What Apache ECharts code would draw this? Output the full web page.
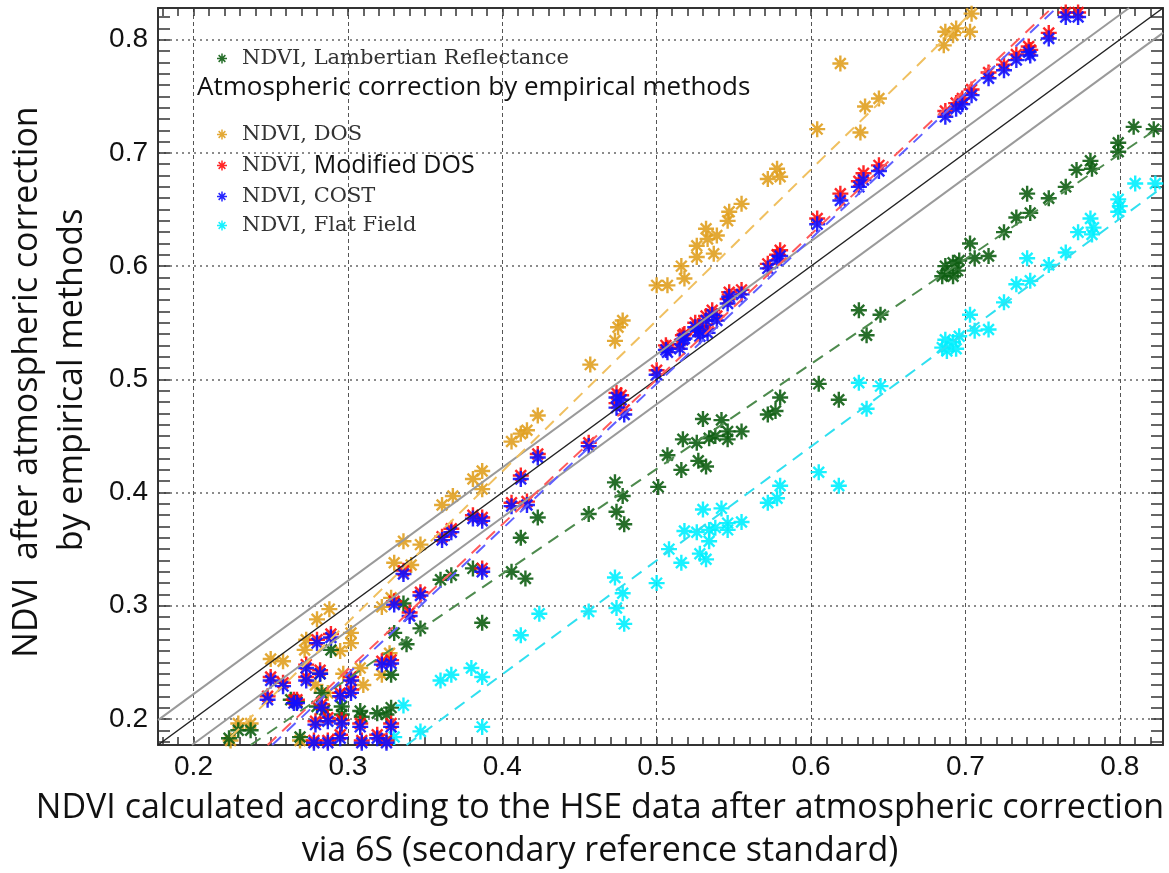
<!DOCTYPE html>
<html>
<head>
<meta charset="utf-8">
<script src="https://cdn.jsdelivr.net/npm/echarts@6/dist/echarts.min.js"></script>
<style>
  html, body { margin: 0; padding: 0; background: #fff; }
  #main { width: 1169px; height: 873px; }
</style>
</head>
<body>
<div id="main"></div>
<script>
// axis extent (same on both axes)
const axisMin = 0.177, axisMax = 0.828;

// [x, y] points
const lambertian = [[0.223,0.183],[0.229,0.190],[0.237,0.190],[0.263,0.217],[0.267,0.215],[0.269,0.184],[0.280,0.211],[0.283,0.223],[0.282,0.240],[0.285,0.208],[0.289,0.261],[0.296,0.211],[0.296,0.204],[0.308,0.207],[0.309,0.202],[0.319,0.205],[0.325,0.204],[0.328,0.210],[0.328,0.239],[0.330,0.276],[0.336,0.302],[0.338,0.266],[0.347,0.280],[0.360,0.323],[0.367,0.327],[0.381,0.333],[0.387,0.285],[0.406,0.330],[0.415,0.324],[0.412,0.360],[0.423,0.378],[0.456,0.381],[0.473,0.409],[0.478,0.397],[0.474,0.383],[0.479,0.372],[0.501,0.405],[0.507,0.433],[0.516,0.420],[0.517,0.447],[0.526,0.444],[0.527,0.428],[0.532,0.423],[0.530,0.465],[0.534,0.448],[0.538,0.450],[0.542,0.464],[0.546,0.454],[0.546,0.447],[0.555,0.454],[0.572,0.469],[0.577,0.472],[0.580,0.484],[0.605,0.496],[0.618,0.482],[0.631,0.561],[0.636,0.539],[0.645,0.557],[0.685,0.591],[0.687,0.600],[0.688,0.594],[0.692,0.603],[0.692,0.591],[0.695,0.596],[0.696,0.605],[0.703,0.620],[0.706,0.607],[0.715,0.609],[0.725,0.630],[0.733,0.643],[0.742,0.647],[0.740,0.664],[0.754,0.660],[0.765,0.670],[0.772,0.685],[0.781,0.693],[0.782,0.686],[0.799,0.709],[0.799,0.701],[0.809,0.723],[0.822,0.721]];

const dos = [[0.224,0.181],[0.229,0.196],[0.237,0.196],[0.250,0.253],[0.258,0.251],[0.269,0.181],[0.272,0.261],[0.273,0.270],[0.279,0.230],[0.280,0.288],[0.287,0.223],[0.288,0.297],[0.295,0.260],[0.297,0.240],[0.302,0.276],[0.302,0.267],[0.308,0.245],[0.310,0.230],[0.322,0.239],[0.322,0.299],[0.327,0.258],[0.328,0.307],[0.330,0.338],[0.341,0.336],[0.336,0.357],[0.347,0.354],[0.361,0.389],[0.368,0.397],[0.381,0.412],[0.387,0.419],[0.387,0.403],[0.406,0.445],[0.412,0.452],[0.416,0.455],[0.423,0.468],[0.457,0.513],[0.473,0.534],[0.475,0.546],[0.478,0.552],[0.500,0.583],[0.507,0.583],[0.516,0.600],[0.518,0.589],[0.526,0.618],[0.526,0.608],[0.532,0.633],[0.533,0.624],[0.537,0.611],[0.539,0.627],[0.546,0.640],[0.547,0.648],[0.555,0.655],[0.572,0.677],[0.578,0.686],[0.580,0.679],[0.604,0.721],[0.619,0.779],[0.632,0.718],[0.635,0.741],[0.644,0.748],[0.686,0.795],[0.687,0.807],[0.692,0.804],[0.694,0.810],[0.703,0.807],[0.704,0.823]];

const modifiedDos = [[0.248,0.220],[0.250,0.237],[0.258,0.232],[0.265,0.217],[0.267,0.217],[0.273,0.248],[0.273,0.237],[0.278,0.181],[0.279,0.198],[0.280,0.270],[0.282,0.243],[0.283,0.213],[0.287,0.201],[0.287,0.181],[0.289,0.275],[0.295,0.223],[0.295,0.186],[0.296,0.199],[0.302,0.226],[0.302,0.237],[0.308,0.196],[0.309,0.181],[0.319,0.186],[0.322,0.251],[0.325,0.181],[0.328,0.252],[0.328,0.196],[0.330,0.304],[0.336,0.331],[0.340,0.294],[0.347,0.312],[0.361,0.361],[0.367,0.368],[0.381,0.380],[0.387,0.378],[0.387,0.333],[0.406,0.391],[0.412,0.415],[0.416,0.392],[0.423,0.434],[0.456,0.444],[0.474,0.488],[0.477,0.486],[0.474,0.479],[0.479,0.473],[0.500,0.508],[0.507,0.528],[0.506,0.530],[0.515,0.531],[0.517,0.539],[0.518,0.540],[0.525,0.550],[0.527,0.547],[0.528,0.542],[0.532,0.556],[0.533,0.545],[0.536,0.561],[0.539,0.556],[0.546,0.571],[0.547,0.577],[0.555,0.579],[0.572,0.602],[0.578,0.610],[0.580,0.614],[0.604,0.642],[0.619,0.664],[0.631,0.675],[0.634,0.682],[0.644,0.689],[0.687,0.737],[0.694,0.744],[0.698,0.748],[0.704,0.756],[0.715,0.771],[0.725,0.778],[0.733,0.787],[0.741,0.794],[0.742,0.791],[0.754,0.806],[0.765,0.824],[0.773,0.824]];

const cost = [[0.248,0.217],[0.250,0.234],[0.258,0.229],[0.265,0.214],[0.267,0.214],[0.273,0.245],[0.273,0.234],[0.278,0.179],[0.279,0.195],[0.280,0.267],[0.282,0.240],[0.283,0.210],[0.287,0.198],[0.287,0.179],[0.289,0.272],[0.295,0.220],[0.295,0.183],[0.296,0.196],[0.302,0.223],[0.302,0.234],[0.308,0.193],[0.309,0.179],[0.319,0.183],[0.322,0.248],[0.325,0.179],[0.328,0.249],[0.328,0.193],[0.330,0.301],[0.336,0.328],[0.340,0.291],[0.347,0.309],[0.361,0.358],[0.367,0.365],[0.381,0.377],[0.387,0.375],[0.387,0.330],[0.406,0.388],[0.412,0.412],[0.416,0.389],[0.423,0.431],[0.456,0.441],[0.474,0.484],[0.477,0.482],[0.474,0.475],[0.479,0.469],[0.500,0.504],[0.507,0.524],[0.506,0.526],[0.515,0.527],[0.517,0.535],[0.518,0.536],[0.525,0.546],[0.527,0.543],[0.528,0.538],[0.532,0.552],[0.533,0.541],[0.536,0.557],[0.539,0.552],[0.546,0.567],[0.547,0.573],[0.555,0.575],[0.572,0.598],[0.578,0.605],[0.580,0.609],[0.604,0.637],[0.619,0.658],[0.631,0.670],[0.634,0.676],[0.644,0.684],[0.687,0.732],[0.694,0.739],[0.698,0.743],[0.704,0.751],[0.715,0.766],[0.725,0.773],[0.733,0.782],[0.741,0.789],[0.742,0.786],[0.754,0.801],[0.765,0.820],[0.773,0.820]];

const flatField = [[0.330,0.184],[0.336,0.212],[0.347,0.189],[0.360,0.234],[0.367,0.239],[0.380,0.245],[0.387,0.237],[0.387,0.193],[0.412,0.274],[0.424,0.293],[0.456,0.295],[0.473,0.325],[0.478,0.311],[0.474,0.298],[0.479,0.284],[0.500,0.320],[0.508,0.350],[0.516,0.338],[0.518,0.366],[0.526,0.365],[0.528,0.346],[0.532,0.341],[0.530,0.385],[0.534,0.367],[0.534,0.357],[0.538,0.369],[0.542,0.386],[0.546,0.373],[0.546,0.367],[0.555,0.374],[0.572,0.391],[0.578,0.395],[0.580,0.406],[0.605,0.418],[0.618,0.406],[0.631,0.497],[0.636,0.474],[0.645,0.494],[0.685,0.528],[0.687,0.535],[0.688,0.525],[0.692,0.533],[0.694,0.527],[0.696,0.538],[0.703,0.557],[0.706,0.543],[0.715,0.544],[0.725,0.568],[0.733,0.584],[0.742,0.587],[0.740,0.607],[0.754,0.601],[0.765,0.612],[0.773,0.630],[0.781,0.642],[0.783,0.634],[0.782,0.628],[0.799,0.659],[0.800,0.653],[0.799,0.648],[0.810,0.673],[0.823,0.673]];

// end points of the reference and fitted lines
const oneToOne = [[0.177,0.177],[0.828,0.828]];
const bandUpper = [[0.177,0.199],[0.806,0.828]];
const bandLower = [[0.199,0.177],[0.828,0.806]];
const fitDos = [[0.224,0.184],[0.707,0.828]];
const fitModifiedDos = [[0.248,0.177],[0.756,0.828]];
const fitCost = [[0.251,0.177],[0.759,0.828]];
const fitLambertian = [[0.237,0.177],[0.827,0.724]];
const fitFlatField = [[0.338,0.177],[0.827,0.669]];

const star = 'path://M-1,-0.15L1,-0.15L1,0.15L-1,0.15Z M-0.15,-1L0.15,-1L0.15,1L-0.15,1Z ' +
  'M-0.778,-0.566L-0.566,-0.778L0.778,0.566L0.566,0.778Z M-0.566,0.778L-0.778,0.566L0.566,-0.778L0.778,-0.566Z';

const chart = echarts.init(document.getElementById('main'));

const axisColor = '#333';
const tickLabel = {
  fontSize: 28,
  fontFamily: 'Liberation Sans, Arial, sans-serif',
  color: '#111',
  formatter: v => {
    const r = Math.round(v * 10) / 10;
    return Math.abs(v - r) < 1e-6 ? r.toFixed(1) : '';
  }
};

function makeAxis(pos, withLabels, tickLen, split) {
  return {
    type: 'value',
    position: pos,
    min: axisMin,
    max: axisMax,
    splitNumber: 7,
    axisLine: { show: true, onZero: false, lineStyle: { color: axisColor, width: 2 } },
    axisTick: { show: true, inside: true, length: tickLen, lineStyle: { color: axisColor, width: 1.5 } },
    minorTick: { show: true, splitNumber: 10, length: tickLen, lineStyle: { color: axisColor, width: 1.5 } },
    axisLabel: withLabels ? Object.assign({ margin: pos === 'bottom' ? 8 : 10, showMinLabel: false, showMaxLabel: false }, tickLabel) : { show: false },
    splitLine: split ? { show: true, lineStyle: split } : { show: false },
    minorSplitLine: { show: false }
  };
}

function scatter(name, data, color) {
  return {
    name: name, type: 'scatter', data: data,
    symbol: star, symbolSize: 16,
    itemStyle: { color: color, opacity: 0.9 }
  };
}

function line(data, color, width, dash) {
  return {
    type: 'line', data: data, symbol: 'none', silent: true,
    lineStyle: { color: color, width: width, type: dash || 'solid' },
    z: 3
  };
}

const serifFont = 'DejaVu Serif, Liberation Serif, serif';
const sansFont = '"Open Sans", sans-serif';

const option = {
  backgroundColor: '#fff',
  animation: false,
  grid: { left: 158, top: 8, right: 6, bottom: 128 },
  xAxis: [
    makeAxis('bottom', true, 8, { color: '#555', type: [4, 3], width: 1 }),
    makeAxis('top', false, 8, null)
  ],
  yAxis: [
    makeAxis('left', true, 12, { color: '#666', type: [2, 4], width: 1.5 }),
    makeAxis('right', false, 12, null)
  ],
  legend: [
    {
      data: ['NDVI, Lambertian Reflectance'],
      left: 212, top: 43, selectedMode: false,
      icon: star, itemWidth: 10, itemHeight: 10,
      textStyle: { fontFamily: serifFont, fontSize: 21, color: '#333', padding: [0, 0, 0, 10] }
    },
    {
      data: ['NDVI, DOS', 'NDVI, Modified DOS', 'NDVI, COST', 'NDVI, Flat Field'],
      orient: 'vertical', left: 212, top: 119, itemGap: 8, selectedMode: false,
      icon: star, itemWidth: 10, itemHeight: 10,
      formatter: n => n === 'NDVI, Modified DOS' ? '{s|NDVI,} {m|Modified DOS}' : n,
      textStyle: {
        fontFamily: serifFont, fontSize: 21, color: '#333', padding: [0, 0, 0, 10],
        rich: {
          s: { fontFamily: serifFont, fontSize: 21, color: '#333' },
          m: { fontFamily: sansFont, fontSize: 25, color: '#111' }
        }
      }
    }
  ],
  graphic: [
    { type: 'text', left: 197, top: 75,
      style: { text: 'Atmospheric correction by empirical methods', font: '26px ' + sansFont, fill: '#111' } },
    { type: 'text', x: 600, y: 808,
      style: { text: 'NDVI calculated according to the HSE data after atmospheric correction', font: '34px ' + sansFont, fill: '#111', textAlign: 'center', textVerticalAlign: 'middle' } },
    { type: 'text', x: 600, y: 851,
      style: { text: 'via 6S (secondary reference standard)', font: '34px ' + sansFont, fill: '#111', textAlign: 'center', textVerticalAlign: 'middle' } },
    { type: 'text', x: 27, y: 382, rotation: Math.PI / 2,
      style: { text: 'NDVI  after atmospheric correction', font: '34px ' + sansFont, fill: '#111', textAlign: 'center', textVerticalAlign: 'middle' } },
    { type: 'text', x: 72, y: 380, rotation: Math.PI / 2,
      style: { text: 'by empirical methods', font: '34px ' + sansFont, fill: '#111', textAlign: 'center', textVerticalAlign: 'middle' } }
  ],
  series: [
    scatter('NDVI, DOS', dos, '#E0A020'),
    scatter('NDVI, Lambertian Reflectance', lambertian, '#0E5E12'),
    scatter('NDVI, Flat Field', flatField, '#00F0FF'),
    scatter('NDVI, Modified DOS', modifiedDos, '#FF1010'),
    scatter('NDVI, COST', cost, '#1010FF'),
    line(bandUpper, '#9a9a9a', 2),
    line(bandLower, '#9a9a9a', 2),
    line(oneToOne, '#222', 1.5),
    line(fitDos, '#F0C060', 2, [12, 8]),
    line(fitLambertian, '#4E8B4E', 2, [12, 8]),
    line(fitFlatField, '#30E0F0', 2, [12, 8]),
    line(fitModifiedDos, '#FF5A5A', 2, [12, 8]),
    line(fitCost, '#6060FF', 2, [12, 8])
  ]
};

chart.setOption(option);
</script>
</body>
</html>
